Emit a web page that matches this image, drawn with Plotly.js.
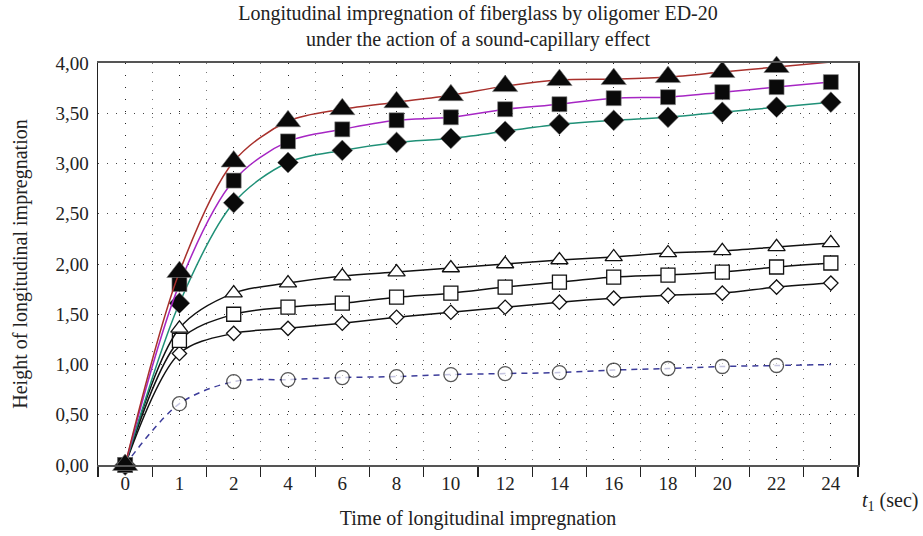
<!DOCTYPE html>
<html>
<head>
<meta charset="utf-8">
<script src="https://cdn.plot.ly/plotly-3.0.1.min.js"></script>
<style>html,body{margin:0;padding:0;background:#fff;}#chart{width:923px;height:536px;}</style>
</head>
<body>
<div id="chart"></div>
<script>
// Time categories (seconds)
const categories = ["0","1","2","4","6","8","10","12","14","16","18","20","22","24"];

// Series values (height of longitudinal impregnation)
const filledTriangle = [0, 1.92, 3.02, 3.42, 3.54, 3.61, 3.68, 3.77, 3.83, 3.84, 3.86, 3.91, 3.96, 4.01];
const filledSquare   = [0, 1.80, 2.83, 3.22, 3.34, 3.43, 3.46, 3.54, 3.59, 3.65, 3.66, 3.71, 3.76, 3.81];
const filledDiamond  = [0, 1.61, 2.61, 3.01, 3.13, 3.21, 3.25, 3.32, 3.39, 3.43, 3.46, 3.51, 3.56, 3.61];
const openTriangle   = [0, 1.36, 1.71, 1.81, 1.88, 1.92, 1.96, 2.00, 2.04, 2.07, 2.11, 2.13, 2.17, 2.21];
const openSquare     = [0, 1.24, 1.50, 1.57, 1.61, 1.67, 1.71, 1.77, 1.82, 1.87, 1.89, 1.92, 1.97, 2.01];
const openDiamond    = [0, 1.11, 1.31, 1.36, 1.41, 1.47, 1.52, 1.57, 1.62, 1.66, 1.69, 1.71, 1.77, 1.81];
const openCircle     = [0, 0.61, 0.83, 0.85, 0.87, 0.88, 0.90, 0.91, 0.92, 0.945, 0.96, 0.98, 0.99, 1.00];

const yTickVals = [0, 0.5, 1, 1.5, 2, 2.5, 3, 3.5, 4];

const serif = "Liberation Serif, DejaVu Serif, serif";

function series(y, color, dash, symbol, size, filled, sizeArr) {
  return {
    x: categories, y: y, type: "scatter", mode: "lines+markers",
    line: {color: color, width: 1.5, dash: dash, shape: "spline", smoothing: 0.9},
    marker: {
      symbol: symbol,
      size: sizeArr || size,
      color: filled ? "#0a0a0a" : "#fff",
      line: {color: filled ? "#888" : "#111", width: filled ? 0.6 : 1.3}
    },
    cliponaxis: false, showlegend: false, hoverinfo: "x+y"
  };
}

const circleSizes = categories.map((c, i) => i === categories.length - 1 ? 0 : 14);

const data = [
  // hidden trace to anchor the center-grid axis
  {x: categories, y: categories.map(() => null), xaxis: "x2", type: "scatter", mode: "lines", showlegend: false, hoverinfo: "skip"},
  series(openCircle, "#3c3c9a", "6px,5px", "circle", 14, false, circleSizes),
  series(openDiamond, "#111", "solid", "diamond", 11, false),
  series(openSquare, "#111", "solid", "square", 14, false),
  series(openTriangle, "#111", "solid", "triangle-up", 15, false),
  series(filledDiamond, "#1f9077", "solid", "diamond", 16, true),
  series(filledSquare, "#a626c4", "solid", "square", 15, true),
  series(filledTriangle, "#a8302c", "solid", "triangle-up", 22, true)
];

const layout = {
  width: 923, height: 536,
  margin: {l: 98, r: 65, t: 63, b: 71},
  paper_bgcolor: "#fff", plot_bgcolor: "#fff",
  separators: ",.",
  font: {family: serif, color: "#222", size: 19},
  title: {
    text: "Longitudinal impregnation of fiberglass by oligomer ED-20<br>under the action of a sound-capillary effect",
    font: {family: serif, size: 20, color: "#222"},
    x: 0.5, xref: "paper", y: 1 - 20 / 536, yref: "container", yanchor: "middle"
  },
  xaxis: {
    type: "category", categoryorder: "array", categoryarray: categories,
    range: [-0.5, categories.length - 0.5],
    tickson: "boundaries", ticks: "outside", ticklen: 10, tickwidth: 1.2, tickcolor: "#222",
    showgrid: true, gridcolor: "#777", gridwidth: 1, griddash: "1px,8px",
    showline: true, linecolor: "#555", linewidth: 2, mirror: true,
    zeroline: false,
    tickfont: {family: serif, size: 19, color: "#222"},
    title: {text: "Time of longitudinal impregnation", font: {family: serif, size: 20, color: "#222"}, standoff: 18}
  },
  xaxis2: {
    type: "category", categoryorder: "array", categoryarray: categories,
    range: [-0.5, categories.length - 0.5],
    overlaying: "x", anchor: "y", side: "bottom",
    showgrid: true, gridcolor: "#222", gridwidth: 1, griddash: "1px,11px",
    showticklabels: false, ticks: "", showline: false, zeroline: false
  },
  yaxis: {
    range: [0, 4], tickvals: yTickVals, tickformat: ".2f",
    ticks: "", showline: true, linecolor: "#222", linewidth: 1.5, mirror: true,
    showgrid: true, gridcolor: "#444", gridwidth: 1, griddash: "1px,8px",
    zeroline: false, ticklabelstandoff: 4,
    tickfont: {family: serif, size: 19, color: "#222"},
    title: {text: "Height of longitudinal impregnation", font: {family: serif, size: 20, color: "#222"}, standoff: 22}
  },
  annotations: [{
    text: "<i>t</i><sub>1</sub> (sec)", xref: "paper", yref: "paper",
    x: 1, y: 0, xanchor: "left", yanchor: "middle", xshift: 2, yshift: -36,
    showarrow: false, font: {family: serif, size: 20, color: "#222"}
  }]
};

Plotly.newPlot("chart", data, layout, {displayModeBar: false, staticPlot: true});
</script>
</body>
</html>
